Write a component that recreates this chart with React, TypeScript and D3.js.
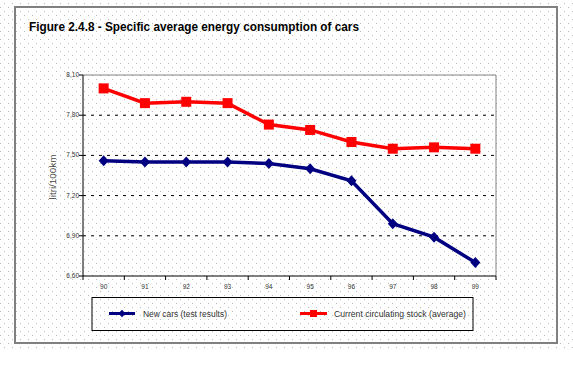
import React from "react";
import * as d3 from "d3";

const categories = ["90", "91", "92", "93", "94", "95", "96", "97", "98", "99"];
const newCars = [7.46, 7.45, 7.45, 7.45, 7.44, 7.40, 7.31, 6.99, 6.89, 6.70];
const circulatingStock = [8.0, 7.89, 7.90, 7.89, 7.73, 7.69, 7.60, 7.55, 7.56, 7.55];
const yTicks = [6.6, 6.9, 7.2, 7.5, 7.8, 8.1];
const seriesNames = ["New cars (test results)", "Current circulating stock (average)"];
const title = "Figure 2.4.8 - Specific average energy consumption of cars";
const yLabel = "litri/100km";

const W = 573;
const H = 384;
const plot = { left: 83, right: 496, top: 75, bottom: 276 };
const BLUE = "#000080";
const RED = "#ff0000";
const FONT = "'Liberation Sans', Arial, sans-serif";

const fmt = (v: number) => d3.format(".2f")(v).replace(".", ",");

const diamond = (s: number) => `M0,${-s * 1.1}L${s},0L0,${s * 1.1}L${-s},0Z`;

export default function App() {
  const x = d3.scaleBand<string>().domain(categories).range([plot.left, plot.right]);
  const y = d3.scaleLinear().domain([6.6, 8.1]).range([plot.bottom, plot.top]);
  const cx = (c: string) => (x(c) as number) + x.bandwidth() / 2;

  const line = d3
    .line<number>()
    .x((_, i) => cx(categories[i]))
    .y((d) => y(d));

  const boundaries = categories.map((c) => x(c) as number).concat([plot.right]);

  return (
    <div style={{ position: "absolute", left: 0, top: 0 }}>
      <svg width={W} height={H} style={{ display: "block" }}>
        <defs>
          <pattern id="dots" width={8} height={8} patternUnits="userSpaceOnUse">
            <rect x={4} y={3} width={1} height={1} fill="#b8b8b8" />
            <rect x={0} y={7} width={1} height={1} fill="#b8b8b8" />
          </pattern>
        </defs>
        <rect x={0} y={0} width={W} height={H} fill="#ffffff" />
        <rect x={0} y={0} width={W} height={350} fill="url(#dots)" />
        {/* outer frame */}
        <rect x={15} y={7} width={542} height={336} fill="none" stroke="#808080" strokeWidth={2} />

        <text x={29} y={31} fontFamily={FONT} fontWeight="bold" fontSize={12.5} fill="#000" textLength={330} lengthAdjust="spacingAndGlyphs">
          {title}
        </text>

        {/* grid lines */}
        {yTicks
          .filter((t) => t > 6.6 && t < 8.1)
          .map((t) => (
            <line key={t} x1={plot.left} x2={plot.right} y1={y(t)} y2={y(t)} stroke="#000" strokeWidth={1} strokeDasharray="3,5" />
          ))}
        {/* plot border top & right */}
        <line x1={plot.left} x2={plot.right} y1={y(8.1)} y2={y(8.1)} stroke="#808080" strokeWidth={1} />
        <line x1={plot.right} x2={plot.right} y1={plot.top} y2={plot.bottom} stroke="#808080" strokeWidth={1} />

        {/* axes */}
        <line x1={plot.left} x2={plot.left} y1={plot.top} y2={plot.bottom} stroke="#000" strokeWidth={1} />
        <line x1={plot.left} x2={plot.right} y1={plot.bottom} y2={plot.bottom} stroke="#000" strokeWidth={1} />
        {yTicks.map((t) => (
          <g key={t}>
            <line x1={plot.left - 4} x2={plot.left} y1={y(t)} y2={y(t)} stroke="#000" />
            <text x={plot.left - 4} y={y(t) + 2} textAnchor="end" fontFamily={FONT} fontSize={6.5} fill="#333">
              {fmt(t)}
            </text>
          </g>
        ))}
        {boundaries.map((b, i) => (
          <line key={i} x1={b} x2={b} y1={plot.bottom} y2={plot.bottom + 4} stroke="#000" />
        ))}
        {categories.map((c) => (
          <text key={c} x={cx(c)} y={plot.bottom + 13} textAnchor="middle" fontFamily={FONT} fontSize={6.5} fill="#333">
            {c}
          </text>
        ))}
        <text
          transform={`translate(56,177) rotate(-90)`}
          textAnchor="middle"
          fontFamily={FONT}
          fontSize={9.5}
          fill="#444"
          textLength={45}
          lengthAdjust="spacingAndGlyphs"
        >
          {yLabel}
        </text>

        {/* series */}
        <path d={line(newCars) || ""} fill="none" stroke={BLUE} strokeWidth={3.5} />
        {newCars.map((v, i) => (
          <path key={i} d={diamond(5)} transform={`translate(${cx(categories[i])},${y(v)})`} fill={BLUE} />
        ))}
        <path d={line(circulatingStock) || ""} fill="none" stroke={RED} strokeWidth={3.5} />
        {circulatingStock.map((v, i) => (
          <rect key={i} x={cx(categories[i]) - 5} y={y(v) - 5} width={10} height={10} fill={RED} />
        ))}

        {/* legend */}
        <rect x={92} y={297.5} width={381} height={33} fill="none" stroke="#000" strokeWidth={1} />
        <line x1={109} x2={135} y1={313.5} y2={313.5} stroke={BLUE} strokeWidth={3} />
        <path d={diamond(3.5)} transform="translate(122,313.5)" fill={BLUE} />
        <text x={143} y={316.5} fontFamily={FONT} fontSize={8.5} fill="#333" textLength={84} lengthAdjust="spacingAndGlyphs">
          {seriesNames[0]}
        </text>
        <line x1={300} x2={327} y1={313.5} y2={313.5} stroke={RED} strokeWidth={3} />
        <rect x={310} y={310} width={7} height={7} fill={RED} />
        <text x={334} y={316.5} fontFamily={FONT} fontSize={8.5} fill="#333" textLength={132} lengthAdjust="spacingAndGlyphs">
          {seriesNames[1]}
        </text>
      </svg>
    </div>
  );
}
